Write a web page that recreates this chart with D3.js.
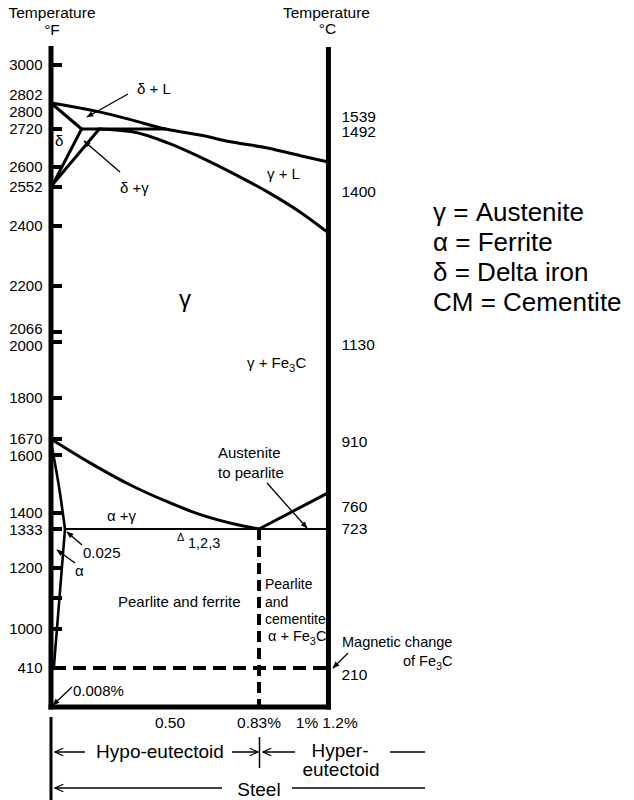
<!DOCTYPE html>
<html><head><meta charset="utf-8">
<script src="https://cdn.jsdelivr.net/npm/d3@7"></script>
<style>
body{margin:0;background:#fff;}
svg{display:block;font-family:"Liberation Sans",Arial,Helvetica,sans-serif;}
</style></head><body>
<svg id="chart" width="634" height="800"></svg>
<script>
// ================= DATA =================
// Temperature axis (°F) ticks and labels
const tempTicksF  = [3000, 2720, 2600, 2552, 2400, 2200, 2066, 2000, 1800, 1670, 1600, 1400, 1333, 1200, 1100, 1000];
const tempLabelsF = [3000, 2802, 2800, 2720, 2600, 2552, 2400, 2200, 2066, 2000, 1800, 1670, 1600, 1400, 1333, 1200, 1000, 410];
// Celsius labels on the right axis
const tempLabelsC = [1539, 1492, 1400, 1130, 910, 760, 723, 210];
// Carbon % labels on the bottom
const carbonValues = [0.50, 0.83, 1.0, 1.2];
const carbonLabels = ["0.50", "0.83%", "1%", "1.2%"];

// Phase boundaries: [carbon %, temperature °F]
const liquidus      = [[0,2802],[0.18,2774],[0.33,2748],[0.48,2720],[0.61,2701],[0.73,2679],[0.86,2660],[0.98,2635],[1.13,2616]];
const gammaSolidus  = [[0.18,2720],[0.33,2711],[0.49,2676],[0.61,2632],[0.73,2586],[0.86,2533],[0.98,2451],[1.13,2377]];
const deltaSolidus  = [[0,2802],[0.10,2720]];
const deltaSolvus   = [[0.10,2720],[0.004,2560]];
const gammaDelta    = [[0.18,2720],[0.004,2560]];
const peritectic    = [[0.10,2720],[0.48,2720]];
const a3Line        = [[0,1670],[0.14,1572],[0.33,1493],[0.49,1438],[0.61,1394],[0.73,1356],[0.83,1333]];
const acmLine       = [[0.83,1333],[1.13,1470]];
const eutectoid     = [[0.025,1333],[1.13,1333]];
const ferriteUpper  = [[0.002,1630],[0.007,1572],[0.016,1469],[0.025,1333]];
const ferriteLower  = [[0.025,1333],[0.005,410]];
const eutectoidComp = 0.83;   // dashed vertical
const magneticF     = 410;    // dashed horizontal (Fe3C magnetic change, 210 °C)
const carbonMax     = 1.13;   // right edge of diagram

// ================= LAYOUT =================
// schematic (non-linear) axes: knots of piecewise-linear scales
const xKnots   = [0, 0.025, 0.5, 0.83, 1.0, 1.2];
const xKnotsPx = [51, 65, 170, 259, 307, 340];
const yKnotsF  = [410, 1000, 1100, 1200, 1333, 1400, 1600, 1670, 1800, 2000, 2066, 2200, 2400, 2552, 2600, 2720, 2802, 3000];
const yKnotsPx = [668, 629, 598, 568, 529, 513, 455, 439, 398, 342, 332, 286, 226, 187, 167, 129, 103, 65];
const axisTop = 46, frameBottom = 707;
const cNudge = {1539: 13, 1492: 2, 1400: 4, 1130: 12, 910: 2, 760: -7, 723: 0, 210: 6};

const x = d3.scaleLinear().domain(xKnots).range(xKnotsPx);
const y = d3.scaleLinear().domain(yKnotsF).range(yKnotsPx);

const svg = d3.select("#chart");
const FS = 15.5;

// arrow markers
const defs = svg.append("defs");
defs.append("marker").attr("id","ah").attr("viewBox","0 -5 10 10").attr("refX",9).attr("refY",0)
  .attr("markerWidth",8).attr("markerHeight",7).attr("markerUnits","userSpaceOnUse").attr("orient","auto")
  .append("path").attr("d","M0,-4L10,0L0,4Z").attr("fill","#000");
defs.append("marker").attr("id","ahOpen").attr("viewBox","0 -6 12 12").attr("refX",11).attr("refY",0)
  .attr("markerWidth",11).attr("markerHeight",10).attr("markerUnits","userSpaceOnUse").attr("orient","auto")
  .append("path").attr("d","M1,-4.5L11,0L1,4.5").attr("fill","none").attr("stroke","#000").attr("stroke-width",1.5);

const xL = x(0), xR = x(carbonMax);

// ---------- Headers ----------
const hdr = svg.append("g").attr("font-size",FS).attr("text-anchor","middle").attr("fill","#000");
hdr.append("text").attr("x",xL+1).attr("y",18).text("Temperature");
hdr.append("text").attr("x",xL+1).attr("y",35).text("°F");
hdr.append("text").attr("x",xR-2).attr("y",18).text("Temperature");
hdr.append("text").attr("x",xR-1).attr("y",34).text("°C");

// ---------- Phase lines ----------
const lineGen = d3.line().x(d=>x(d[0])).y(d=>y(d[1]));
const smooth = d3.line().x(d=>x(d[0])).y(d=>y(d[1])).curve(d3.curveMonotoneX);
const g = svg.append("g").attr("fill","none").attr("stroke","#000").attr("stroke-linecap","round").attr("stroke-linejoin","round");
g.append("path").attr("d",smooth(liquidus)).attr("stroke-width",3);
g.append("path").attr("d",smooth(gammaSolidus)).attr("stroke-width",3);
g.append("path").attr("d",lineGen(deltaSolidus)).attr("stroke-width",3);
g.append("path").attr("d",lineGen(deltaSolvus)).attr("stroke-width",3);
g.append("path").attr("d",lineGen(gammaDelta)).attr("stroke-width",3);
g.append("path").attr("d",lineGen(peritectic)).attr("stroke-width",3);
g.append("path").attr("d",smooth(a3Line)).attr("stroke-width",3);
g.append("path").attr("d",lineGen(acmLine)).attr("stroke-width",3);
g.append("path").attr("d",lineGen(eutectoid)).attr("stroke-width",2).attr("stroke-linecap","butt");
g.append("path").attr("d",smooth(ferriteUpper)).attr("stroke-width",2.6);
g.append("path").attr("d",lineGen(ferriteLower)).attr("stroke-width",2.6);

// dashed lines
g.append("line").attr("x1",x(0)+2).attr("x2",xR).attr("y1",y(magneticF)).attr("y2",y(magneticF))
  .attr("stroke-width",4).attr("stroke-dasharray","13,7").attr("stroke-linecap","butt");
g.append("line").attr("x1",x(eutectoidComp)).attr("x2",x(eutectoidComp)).attr("y1",y(1333)).attr("y2",frameBottom)
  .attr("stroke-width",4).attr("stroke-dasharray","11,6").attr("stroke-linecap","butt");

// ---------- Frame / axes ----------
const fr = svg.append("g").attr("stroke","#000");
fr.append("line").attr("x1",xL).attr("x2",xL).attr("y1",axisTop).attr("y2",frameBottom+2.5).attr("stroke-width",5);
fr.append("line").attr("x1",xR).attr("x2",xR).attr("y1",axisTop+1).attr("y2",frameBottom+2.5).attr("stroke-width",5);
fr.append("line").attr("x1",xL-2.5).attr("x2",xR+2.5).attr("y1",frameBottom).attr("y2",frameBottom).attr("stroke-width",5);
fr.selectAll(".tick").data(tempTicksF).join("line")
  .attr("x1",xL).attr("x2",xL+11).attr("y1",d=>y(d)).attr("y2",d=>y(d)).attr("stroke-width",4);

// left labels with simple collision relaxation
const GAP = 17;
const fItems = tempLabelsF.map(t=>({t, y:y(t)})).sort((a,b)=>a.y-b.y);
for(let k=0;k<80;k++){
  for(let i=1;i<fItems.length;i++){
    const d=fItems[i].y-fItems[i-1].y;
    if(d<GAP){const s=(GAP-d)/2; fItems[i].y+=s; fItems[i-1].y-=s;}
  }
}
svg.append("g").attr("font-size",15).attr("text-anchor","end")
  .selectAll("text").data(fItems).join("text")
  .attr("x",42.5).attr("y",d=>d.y).attr("dy","0.36em").text(d=>d.t);

// right labels (°C -> °F position)
svg.append("g").attr("font-size",FS).attr("text-anchor","start")
  .selectAll("text").data(tempLabelsC).join("text")
  .attr("x",xR+13).attr("y",d=>y(d*1.8+32)+(cNudge[d]||0)).attr("dy","0.36em").text(d=>d);

// bottom carbon labels
svg.append("g").attr("font-size",FS).attr("text-anchor","middle")
  .selectAll("text").data(carbonValues).join("text")
  .attr("x",d=>x(d)).attr("y",728).text((d,i)=>carbonLabels[i]);

// ---------- Annotations ----------
const ann = svg.append("g").attr("font-size",15).attr("fill","#000");
function txt(xp,yp,s,size,anchor){ return ann.append("text").attr("x",xp).attr("y",yp).attr("font-size",size||15).attr("text-anchor",anchor||"start").text(s); }
function sub(xp,yp,pre,subs,post,size){
  const t=ann.append("text").attr("x",xp).attr("y",yp).attr("font-size",size||15);
  t.append("tspan").text(pre);
  t.append("tspan").attr("dy",4).attr("font-size",(size||15)*0.75).text(subs);
  t.append("tspan").attr("dy",-4).text(post);
  return t;
}
function arrow(x1,y1,x2,y2){
  svg.append("line").attr("x1",x1).attr("y1",y1).attr("x2",x2).attr("y2",y2)
    .attr("stroke","#000").attr("stroke-width",1.3).attr("marker-end","url(#ah)");
}
txt(137,94,"δ + L");
arrow(128,94,87,117);
txt(55,146,"δ");
txt(120,193,"δ +γ");
arrow(120,172,84,141);
txt(267,179,"γ + L");
txt(185,307,"γ",24,"middle");
sub(247,368,"γ + Fe","3","C");
txt(218,458,"Austenite");
txt(218,478,"to pearlite");
arrow(267,483,307,528);
txt(107,521,"α +γ");
txt(177,541,"Δ",11);
txt(188,548,"1,2,3",14.5);
txt(83,558,"0.025");
arrow(82,545,67,532);
txt(75,576,"α");
arrow(75,563,57,550);
txt(118,607,"Pearlite and ferrite");
txt(265,589,"Pearlite",14);
txt(265,607,"and",14);
txt(265,624,"cementite",14);
sub(268,641,"α + Fe","3","C",14.5);
txt(342,647,"Magnetic change",14.5);
sub(403,666,"of Fe","3","C",14.5);
arrow(348,653,333,668);
txt(73,696,"0.008%");
arrow(72,687,53,705);

// ---------- Bottom classification ----------
const bot = svg.append("g").attr("stroke","#000").attr("stroke-width",1.5);
bot.append("line").attr("x1",xL).attr("x2",xL).attr("y1",717).attr("y2",800).attr("stroke-width",3);
bot.append("line").attr("x1",85).attr("x2",55).attr("y1",752).attr("y2",752).attr("marker-end","url(#ahOpen)");
bot.append("line").attr("x1",232).attr("x2",258).attr("y1",752).attr("y2",752).attr("marker-end","url(#ahOpen)");
bot.append("line").attr("x1",x(eutectoidComp)+0.5).attr("x2",x(eutectoidComp)+0.5).attr("y1",737).attr("y2",768);
bot.append("line").attr("x1",295).attr("x2",263).attr("y1",752).attr("y2",752).attr("marker-end","url(#ahOpen)");
bot.append("line").attr("x1",390).attr("x2",425).attr("y1",752).attr("y2",752);
bot.append("line").attr("x1",222).attr("x2",55).attr("y1",788).attr("y2",788).attr("marker-end","url(#ahOpen)");
bot.append("line").attr("x1",292).attr("x2",425).attr("y1",788).attr("y2",788);
const bt = svg.append("g").attr("font-size",19).attr("text-anchor","middle");
bt.append("text").attr("x",160).attr("y",758).text("Hypo-eutectoid");
bt.append("text").attr("x",340).attr("y",757).text("Hyper-");
bt.append("text").attr("x",341).attr("y",776).text("eutectoid");
bt.append("text").attr("x",259).attr("y",796).text("Steel");

// ---------- Legend ----------
const legendItems = ["γ = Austenite","α = Ferrite","δ = Delta iron","CM = Cementite"];
svg.append("g").attr("font-size",26)
  .selectAll("text").data(legendItems).join("text")
  .attr("x",433).attr("y",(d,i)=>221+i*30).text(d=>d);
</script>
</body></html>
